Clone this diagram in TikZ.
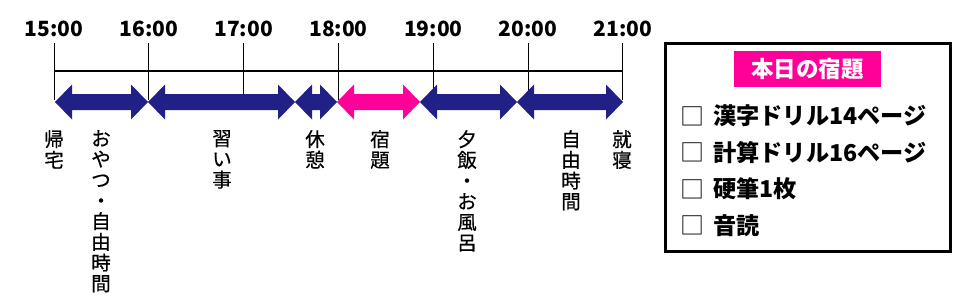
\documentclass[tikz,border=0pt]{standalone}
\usepackage{fontspec}
\newfontfamily\cjk{Noto Sans CJK JP}
\newfontfamily\cjkm[FakeBold=0.6]{Noto Sans CJK JP}
\definecolor{navy}{RGB}{32,32,134}
\definecolor{hotpink}{RGB}{255,0,153}
\newcommand\dblarrow[4]{%
  \fill[#3] (#1,102) -- ({#1+17},84.5) -- ({#1+17},94) -- ({#2-17},94) -- ({#2-17},84.5)
    -- (#2,102) -- ({#2-17},119.5) -- ({#2-17},110) -- ({#1+17},110) -- ({#1+17},119.5) -- cycle;
  \coordinate (#4) at ({(#1+#2)/2},102);}
\begin{document}
\begin{tikzpicture}[x=1pt,y=-1pt,
  timelbl/.style={font=\cjk\bfseries\fontsize{21}{21}\selectfont, anchor=base, inner sep=0pt},
  vlbl/.style={font=\cjkm\fontsize{19.5}{20.7}\selectfont, anchor=north, align=center, inner sep=0pt},
  itemtxt/.style={font=\cjk\bfseries\fontsize{23.2}{23}\selectfont, anchor=west, inner sep=0pt},
  chkbox/.style={font=\cjk\fontsize{24}{24}\selectfont, anchor=center, inner sep=0pt},
  axisline/.style={line width=2pt},
  tickline/.style={line width=1pt}]
\useasboundingbox (0,0) rectangle (977,306);
% ticks and labels
\foreach \i/\t in {0/15:00,1/16:00,2/17:00,3/18:00,4/19:00,5/20:00,6/21:00}{
  \coordinate (t\i) at ({54+94.83*\i},43);
  \coordinate (b\i) at ({54+94.83*\i},100);
  \draw[tickline] (t\i) -- (b\i);
  \node[timelbl] (lbl\i) at ({54+94.83*\i},36.7) {\t};
}
\coordinate (axL) at (54,70.7);
\coordinate (axR) at (623,70.7);
\draw[axisline] (axL) -- (axR);
% arrows
\dblarrow{55}{148}{navy}{a1}
\dblarrow{148}{295}{navy}{a2}
\dblarrow{295}{337}{navy}{a3}
\dblarrow{337}{420}{hotpink}{a4}
\dblarrow{420}{517}{navy}{a5}
\dblarrow{517}{623}{navy}{a6}
% vertical labels
\node[vlbl] (v1) at (54,130) {帰\\宅};
\node[vlbl] (v2) at (101,130) {お\\や\\つ\\・\\自\\由\\時\\間};
\node[vlbl] (v3) at (222,130) {習\\い\\事};
\node[vlbl] (v4) at (315,130) {休\\憩};
\node[vlbl] (v5) at (380,130) {宿\\題};
\node[vlbl] (v6) at (467,130) {夕\\飯\\・\\お\\風\\呂};
\node[vlbl] (v7) at (571,130) {自\\由\\時\\間};
\node[vlbl] (v8) at (622,130) {就\\寝};
% homework box
\draw[line width=3pt] (665,43.5) rectangle (950,251.5);
\fill[hotpink] (734,51) rectangle (881,87);
\node[font=\cjk\bfseries\fontsize{22.5}{22}\selectfont, text=white, inner sep=0pt] (title) at (807.5,69) {本日の宿題};
\foreach \y/\s [count=\k] in {116/漢字ドリル14ページ,152.5/計算ドリル16ページ,189/硬筆1枚,225.5/音読}{
  \node[chkbox] (c\k) at (692.5,\y) {□};
  \node[itemtxt] (i\k) at (713,\y) {\s};
}
\end{tikzpicture}
\end{document}
